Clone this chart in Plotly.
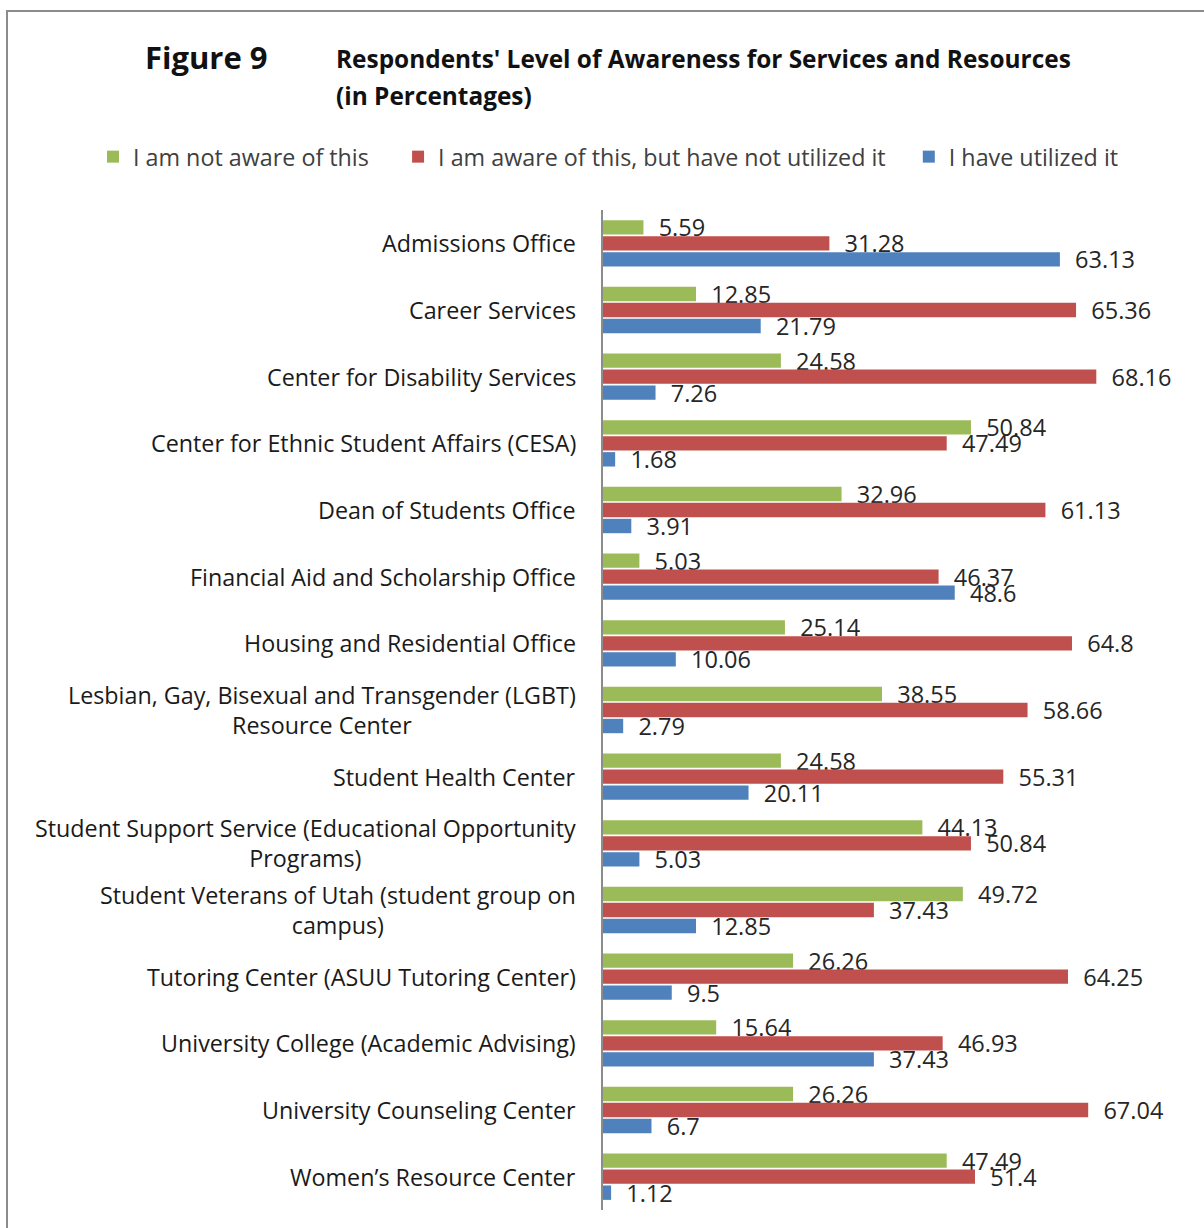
import plotly.graph_objects as go

# Survey categories (top to bottom)
categories = [
    "Admissions Office",
    "Career Services",
    "Center for Disability Services",
    "Center for Ethnic Student Affairs (CESA)",
    "Dean of Students Office",
    "Financial Aid and Scholarship Office",
    "Housing and Residential Office",
    "Lesbian, Gay, Bisexual and Transgender (LGBT)<br>Resource Center",
    "Student Health Center",
    "Student Support Service (Educational Opportunity<br>Programs)",
    "Student Veterans of Utah (student group on<br>campus)",
    "Tutoring Center (ASUU Tutoring Center)",
    "University College (Academic Advising)",
    "University Counseling Center",
    "Women\u2019s Resource Center",
]

not_aware = [5.59, 12.85, 24.58, 50.84, 32.96, 5.03, 25.14, 38.55, 24.58, 44.13,
             49.72, 26.26, 15.64, 26.26, 47.49]
aware_not_used = [31.28, 65.36, 68.16, 47.49, 61.13, 46.37, 64.8, 58.66, 55.31, 50.84,
                  37.43, 64.25, 46.93, 67.04, 51.4]
utilized = [63.13, 21.79, 7.26, 1.68, 3.91, 48.6, 10.06, 2.79, 20.11, 5.03,
            12.85, 9.5, 37.43, 6.7, 1.12]

series_names = ["I am not aware of this",
                "I am aware of this, but have not utilized it",
                "I have utilized it"]
series_colors = ["#9BBB59", "#C0504D", "#4F81BD"]

W, H = 1204, 1228
ML, MR, MT, MB = 603, 22, 210, 18
PW, PH = W - ML - MR, H - MT - MB

FONT = "'Open Sans', 'Noto Sans', sans-serif"
NB = "\u00a0"


def px_x(px):
    return (px - ML) / PW


def px_y(py):
    return (H - MB - py) / PH


# trailing padding in legend entries widens the gap to the next entry
legend_pad = [NB * 4, NB * 3, ""]

fig = go.Figure()
for name, pad, vals, col in zip(series_names, legend_pad,
                                [not_aware, aware_not_used, utilized], series_colors):
    fig.add_trace(go.Bar(
        y=list(range(len(categories))),
        x=vals,
        orientation="h",
        name=name + pad,
        marker=dict(color=col, line=dict(width=0)),
        text=[f"{v:g}" for v in vals],
        texttemplate=NB * 2 + "%{text}",
        textposition="outside",
        constraintext="none",
        cliponaxis=False,
        textfont=dict(family=FONT, size=23.5, color="#262626"),
        hoverinfo="x+name",
    ))

# Category labels, centred per line and right-aligned against the axis
for i, cat in enumerate(categories):
    fig.add_annotation(
        x=0, xref="paper", y=i, yref="y",
        xanchor="right", yanchor="middle", xshift=-25,
        text=cat, align="center", showarrow=False,
        font=dict(family=FONT, size=23.3, color="#1a1a1a"),
    )

# Title block
fig.add_annotation(x=px_x(143), y=px_y(57), xref="paper", yref="paper",
                   xanchor="left", yanchor="middle", showarrow=False,
                   text="<b>Figure 9</b>",
                   font=dict(family=FONT, size=31, color="#111"))
fig.add_annotation(x=px_x(334), y=px_y(59), xref="paper", yref="paper",
                   xanchor="left", yanchor="middle", showarrow=False,
                   text="<b>Respondents' Level of Awareness for Services and Resources</b>",
                   font=dict(family=FONT, size=24.4, color="#111"))
fig.add_annotation(x=px_x(334), y=px_y(96), xref="paper", yref="paper",
                   xanchor="left", yanchor="middle", showarrow=False,
                   text="<b>(in Percentages)</b>",
                   font=dict(family=FONT, size=24.4, color="#111"))

# Outer frame
fig.add_shape(type="rect", xref="paper", yref="paper",
              x0=px_x(7), x1=px_x(1215), y0=px_y(1240), y1=px_y(11),
              line=dict(color="#8c8c8c", width=2), fillcolor="rgba(0,0,0,0)")

fig.update_layout(
    width=W, height=H,
    margin=dict(l=ML, r=MR, t=MT, b=MB),
    paper_bgcolor="white", plot_bgcolor="white",
    barmode="group", bargap=0.28, bargroupgap=0.1,
    showlegend=True,
    legend=dict(orientation="h", x=px_x(93), y=px_y(157), xanchor="left", yanchor="middle",
                font=dict(family=FONT, size=23.3, color="#404040"),
                itemwidth=30, traceorder="normal", bgcolor="rgba(0,0,0,0)"),
    xaxis=dict(range=[0, 80], visible=False, fixedrange=True),
    yaxis=dict(range=[14.5, -0.5], showticklabels=False, ticks="",
               showline=True, linecolor="#8c8c8c", linewidth=1.5,
               showgrid=False, zeroline=False, fixedrange=True),
    font=dict(family=FONT),
)

fig.write_html("out.html")
